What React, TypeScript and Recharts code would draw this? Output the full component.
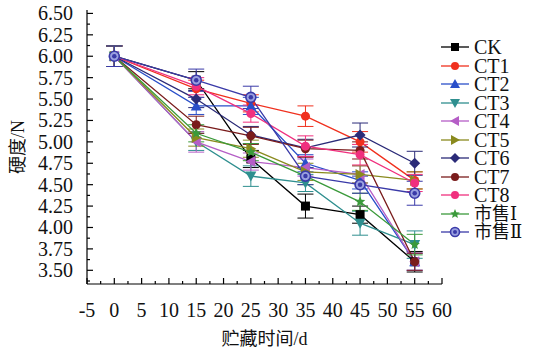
import React from 'react';
import { LineChart, Line, XAxis, YAxis, ErrorBar, Label } from 'recharts';

// storage time (d)
const days = [0, 15, 25, 35, 45, 55];

// hardness (N)
const ck = [6.0, 5.72, 4.8, 4.25, 4.15, 3.6];
const ct1 = [6.0, 5.62, 5.45, 5.3, 5.0, 4.55];
const ct2 = [6.0, 5.42, 5.42, 4.75, 4.55, 3.6];
const ct3 = [6.0, 5.0, 4.6, 4.52, 4.05, 3.8];
const ct4 = [6.0, 5.0, 4.77, 4.7, 4.62, 3.6];
const ct5 = [6.0, 5.05, 4.92, 4.65, 4.62, 4.55];
const ct6 = [6.0, 5.5, 5.08, 4.93, 5.08, 4.75];
const ct7 = [6.0, 5.2, 5.07, 4.92, 4.9, 3.6];
const ct8 = [6.0, 5.65, 5.33, 4.95, 4.85, 4.52];
const shop1 = [6.0, 5.1, 4.88, 4.6, 4.3, 3.8];
const shop2 = [6.0, 5.72, 5.52, 4.6, 4.5, 4.4];

// error bars
const ckErr = [0.12, 0.1, 0.1, 0.14, 0.1, 0.12];
const ct1Err = [0.12, 0.1, 0.1, 0.12, 0.12, 0.1];
const ct2Err = [0.12, 0.1, 0.1, 0.1, 0.1, 0.1];
const ct3Err = [0.12, 0.1, 0.12, 0.1, 0.14, 0.16];
const ct4Err = [0.12, 0.12, 0.1, 0.1, 0.1, 0.1];
const ct5Err = [0.12, 0.1, 0.1, 0.1, 0.1, 0.1];
const ct6Err = [0.12, 0.1, 0.1, 0.1, 0.14, 0.14];
const ct7Err = [0.12, 0.1, 0.1, 0.1, 0.1, 0.1];
const ct8Err = [0.12, 0.1, 0.1, 0.12, 0.12, 0.1];
const shop1Err = [0.12, 0.1, 0.1, 0.1, 0.1, 0.12];
const shop2Err = [0.12, 0.13, 0.13, 0.1, 0.1, 0.14];

const names = ['CK', 'CT1', 'CT2', 'CT3', 'CT4', 'CT5', 'CT6', 'CT7', 'CT8', '市售Ⅰ', '市售Ⅱ'];
const keys = ['ck', 'ct1', 'ct2', 'ct3', 'ct4', 'ct5', 'ct6', 'ct7', 'ct8', 'shop1', 'shop2'];
const valueSets = [ck, ct1, ct2, ct3, ct4, ct5, ct6, ct7, ct8, shop1, shop2];
const errSets = [ckErr, ct1Err, ct2Err, ct3Err, ct4Err, ct5Err, ct6Err, ct7Err, ct8Err, shop1Err, shop2Err];
const colors = ['#000000', '#f0301e', '#2a4fc9', '#2f8f8f', '#b55ec6', '#8a8a1e', '#2b2b78', '#7a1c1c', '#f0307e', '#3b9a3b', '#3a3aa8'];
const shapes = ['square', 'circle', 'up', 'down', 'left', 'right', 'diamond', 'circle', 'circle', 'star', 'ring'];

const yTicks = [3.375, 3.5, 3.625, 3.75, 3.875, 4.0, 4.125, 4.25, 4.375, 4.5, 4.625, 4.75, 4.875, 5.0, 5.125, 5.25, 5.375, 5.5, 5.625, 5.75, 5.875, 6.0, 6.125, 6.25, 6.375, 6.5];
const xTicks = [-5, -2.5, 0, 2.5, 5, 7.5, 10, 12.5, 15, 17.5, 20, 22.5, 25, 27.5, 30, 32.5, 35, 37.5, 40, 42.5, 45, 47.5, 50, 52.5, 55, 57.5, 60];

const data = days.map((d, i) => {
  const row: any = { day: d };
  keys.forEach((k, j) => {
    row[k] = valueSets[j][i];
    row[k + 'Err'] = errSets[j][i];
  });
  return row;
});

const FONT = 'Liberation Serif, DejaVu Serif, Noto Sans CJK SC, serif';
const Y_MARGIN = 14;
const X_MARGIN = 20;

function marker(shape: string, cx: number, cy: number, color: string, r = 4.5) {
  switch (shape) {
    case 'square':
      return <rect x={cx - r} y={cy - r} width={r * 2} height={r * 2} fill={color} />;
    case 'up':
      return <polygon points={`${cx},${cy - r - 1} ${cx - r - 1},${cy + r} ${cx + r + 1},${cy + r}`} fill={color} />;
    case 'down':
      return <polygon points={`${cx},${cy + r + 1} ${cx - r - 1},${cy - r} ${cx + r + 1},${cy - r}`} fill={color} />;
    case 'left':
      return <polygon points={`${cx - r - 1},${cy} ${cx + r},${cy - r - 1} ${cx + r},${cy + r + 1}`} fill={color} />;
    case 'right':
      return <polygon points={`${cx + r + 1},${cy} ${cx - r},${cy - r - 1} ${cx - r},${cy + r + 1}`} fill={color} />;
    case 'diamond':
      return <polygon points={`${cx},${cy - r - 1} ${cx + r + 1},${cy} ${cx},${cy + r + 1} ${cx - r - 1},${cy}`} fill={color} />;
    case 'star': {
      const pts: string[] = [];
      for (let k = 0; k < 10; k++) {
        const rr = k % 2 === 0 ? r + 1 : (r + 1) * 0.45;
        const a = -Math.PI / 2 + (k * Math.PI) / 5;
        pts.push(`${cx + rr * Math.cos(a)},${cy + rr * Math.sin(a)}`);
      }
      return <polygon points={pts.join(' ')} fill={color} />;
    }
    case 'ring':
      return (
        <g>
          <circle cx={cx} cy={cy} r={r + 0.5} fill="#9aa0e0" stroke={color} strokeWidth={1.6} />
          <circle cx={cx} cy={cy} r={r * 0.5} fill={color} />
        </g>
      );
    default:
      return <circle cx={cx} cy={cy} r={r} fill={color} />;
  }
}

function makeDot(shape: string, color: string) {
  return (props: any) => {
    const { cx, cy, index } = props;
    return <g key={`${shape}-${index}`}>{marker(shape, cx, cy, color)}</g>;
  };
}

function YTick(props: any) {
  const { x, y, payload } = props;
  const v = payload.value;
  const major = Math.abs(v * 4 - Math.round(v * 4)) < 1e-6;
  const ax = x + Y_MARGIN;
  return (
    <g>
      <line x1={ax} x2={ax + (major ? 6 : 3)} y1={y} y2={y} stroke="#000" strokeWidth={1.2} />
      {major && (
        <text x={x} y={y} dy="0.35em" textAnchor="end" fontFamily={FONT} fontSize={20} fill="#111">
          {v.toFixed(2)}
        </text>
      )}
    </g>
  );
}

function XTick(props: any) {
  const { x, y, payload } = props;
  const v = payload.value;
  const major = Math.abs(v / 5 - Math.round(v / 5)) < 1e-6;
  const ay = y - X_MARGIN;
  return (
    <g>
      <line x1={x} x2={x} y1={ay} y2={ay - (major ? 6 : 3)} stroke="#000" strokeWidth={1.2} />
      {major && (
        <text x={x} y={y} dy="0.65em" textAnchor="middle" fontFamily={FONT} fontSize={20} fill="#111">
          {v}
        </text>
      )}
    </g>
  );
}

function LegendBox() {
  return (
    <div style={{ position: 'absolute', left: 439, top: 38, width: 100, fontFamily: FONT, fontSize: 20, color: '#111' }}>
      {names.map((n, i) => (
        <div key={n} style={{ display: 'flex', alignItems: 'center', height: 18.5 }}>
          <svg width={32} height={14} style={{ flex: 'none' }}>
            <line x1={2} x2={30} y1={7} y2={7} stroke={colors[i]} strokeWidth={1.3} />
            {marker(shapes[i], 16, 7, colors[i], 4)}
          </svg>
          <span
            style={{
              display: 'block',
              height: 18.5,
              lineHeight: '18.5px',
              marginLeft: 3,
              whiteSpace: 'nowrap',
              fontSize: i >= 9 ? 18 : 20,
            }}
          >
            {n}
          </span>
        </div>
      ))}
    </div>
  );
}

export default function App() {
  return (
    <div style={{ position: 'absolute', left: 0, top: 0, width: 539, height: 358, background: '#fff' }}>
      <LineChart width={539} height={358} data={data} margin={{ top: 10, right: 97, left: 0, bottom: 0 }}>
        <XAxis
          type="number"
          dataKey="day"
          domain={[-5, 60]}
          ticks={xTicks}
          interval={0}
          tick={<XTick />}
          tickSize={0}
          tickMargin={X_MARGIN}
          height={74}
          stroke="#000"
          strokeWidth={1.2}
        >
          <Label
            content={(p: any) => {
              const vb = p.viewBox;
              return (
                <text x={vb.x + vb.width / 2} y={vb.y + 55} textAnchor="middle" dominantBaseline="central" fontFamily={FONT} fontSize={18} fill="#111">
                  贮藏时间/d
                </text>
              );
            }}
          />
        </XAxis>
        <YAxis
          type="number"
          domain={[3.34, 6.54]}
          ticks={yTicks}
          interval={0}
          tick={<YTick />}
          tickSize={0}
          tickMargin={Y_MARGIN}
          width={87}
          stroke="#000"
          strokeWidth={1.2}
          allowDataOverflow
        >
          <Label
            content={(p: any) => {
              const vb = p.viewBox;
              const cx = 18;
              const cy = vb.y + vb.height / 2;
              return (
                <text x={cx} y={cy} transform={`rotate(-90 ${cx} ${cy})`} textAnchor="middle" dominantBaseline="central" fontFamily={FONT} fontSize={18} fill="#111">
                  硬度/N
                </text>
              );
            }}
          />
        </YAxis>
        {keys.map((k, i) => (
          <Line
            key={k}
            type="linear"
            dataKey={k}
            name={names[i]}
            stroke={colors[i]}
            strokeWidth={1.3}
            dot={makeDot(shapes[i], colors[i])}
            activeDot={false}
            isAnimationActive={false}
          >
            <ErrorBar dataKey={k + 'Err'} width={8} stroke={colors[i]} strokeWidth={1} direction="y" />
          </Line>
        ))}
      </LineChart>
      <LegendBox />
    </div>
  );
}
